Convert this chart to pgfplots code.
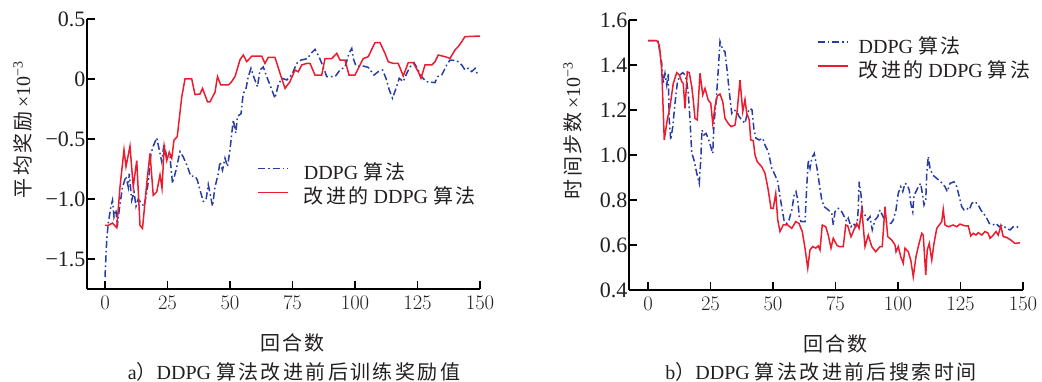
\documentclass[border=0pt]{standalone}
\usepackage{fontspec}
\setmainfont{Liberation Serif}
\newfontfamily\cjk[LetterSpace=12]{Noto Sans CJK SC}
\usepackage{pgfplots}
\pgfplotsset{compat=1.18}
\definecolor{myblue}{RGB}{40,60,165}
\definecolor{myred}{RGB}{235,28,45}
\definecolor{txt}{RGB}{35,31,32}

\pgfplotsset{
  myax/.style={
    scale only axis, width=393bp, height=270bp,
    axis x line*=bottom, axis y line*=left,
    axis line style={-, line width=1.7bp, black},
    tick align=inside, major tick length=8bp,
    every tick/.style={black, line width=1.7bp},
    xtick={0,25,50,75,100,125,150},
    xmax=150,
    tick label style={font=\fontsize{22bp}{26bp}\selectfont, text=txt},
    xticklabel style={yshift=-4bp},
    yticklabel style={xshift=2bp},
    label style={font=\fontsize{20bp}{24bp}\selectfont, text=txt},
    legend style={draw=none, fill=none, inner sep=0pt, anchor=north west,
      font=\fontsize{20bp}{24bp}\selectfont, text=txt,
      nodes={text height=14bp, text depth=4bp, inner ysep=3bp, inner xsep=0pt}},
    legend cell align=left,
    legend image code/.code={\draw[#1] (0bp,6bp) -- (30bp,6bp);},
    clip=false,
  },
  bl/.style={myblue, line width=1.5bp, dash pattern=on 7bp off 3bp on 1.6bp off 3bp},
  rd/.style={myred, line width=1.5bp},
}

\begin{document}
\begin{tikzpicture}
\useasboundingbox (0,0) rectangle (1042bp,382bp);

% ---------------- left ----------------
\begin{axis}[myax, at={(87bp,93bp)}, anchor=south west,
  xmin=-7.2, ymin=-1.75, ymax=0.5,
  ytick={-1.5,-1,-0.5,0,0.5},
  yticklabels={−1.5,−1.0,−0.5,0,0.5},
  ylabel={{\cjk 平均奖励}\,×10\textsuperscript{−3}},
  ylabel style={at={(axis description cs:-0.164,0.59)}, anchor=center},
  xlabel={\cjk 回合数},
  xlabel style={at={(axis description cs:0.523,-0.2)}, anchor=center},
  legend style={at={(axis description cs:0.433,0.47)}, column sep=15bp},
]
\addplot[bl] coordinates {
(0,-1.65) (0.7,-1.34) (1.3,-1.2) (2.4,-1.06) (3,-1.01) (3.6,-1.15) (4.4,-1.09) (4.9,-1.23) (5.7,-1.09) (7,-0.9) (8.4,-0.81) (9.3,-0.9) (9.7,-0.79) (10.7,-1.01) (11.6,-0.94) (12.4,-1.06) (13.3,-1.0) (14.7,-1.04) (15.6,-1.06) (16.7,-0.95) (17.6,-0.81) (18.4,-0.62) (19.3,-0.56) (20.7,-0.49) (21.7,-0.59) (22.7,-0.69) (23.6,-0.54) (24.7,-0.65) (26,-0.65) (27,-0.87) (28.4,-0.76) (30,-0.605) (31.3,-0.65) (33,-0.73) (34.3,-0.81) (36,-0.81) (36.9,-0.84) (38,-0.925) (39.3,-1.02) (40.4,-1.01) (41.3,-0.88) (42,-0.95) (43,-1.06) (44,-0.9) (45.3,-0.79) (46,-0.69) (47,-0.76) (48,-0.66) (49,-0.73) (50,-0.59) (51.3,-0.34) (52.3,-0.45) (53,-0.31) (54.4,-0.29) (55.3,-0.12) (56.3,-0.09) (57.3,0.019) (58.4,0.089) (59.7,0.006) (61,-0.064) (62,0.075) (63.3,0.1) (64.7,0.019) (66,-0.05) (68,-0.16) (69.3,-0.05) (70.7,0.006) (72.7,-0.008) (74.7,0.033) (76.7,0.13) (78.4,0.158) (81,0.17) (82.4,0.214) (84,0.247) (85.6,0.186) (87.3,0.1) (88.7,0.019) (92,0.019) (94,0.075) (96,0.1) (97.6,0.214) (98.7,0.255) (99.3,0.172) (100.4,0.108) (103.3,0.108) (105.3,0.097) (107.6,0.033) (109.3,0.061) (111,0.075) (112.4,0.006) (113.7,-0.09) (115,-0.16) (116.4,-0.078) (117.7,0.006) (119.3,-0.022) (120.7,0.047) (122,0.1) (123.6,0.136) (125.3,0.075) (126.7,0.019) (128.4,-0.022) (132,-0.03) (133,0.019) (134.7,0.033) (136.7,0.117) (138,0.158) (140.7,0.153) (142.7,0.117) (144,0.075) (145.3,0.089) (146.7,0.061) (148,0.089) (149.3,0.025)
};
\addlegendentry{DDPG {\cjk 算法}}
\addplot[rd] coordinates {
(0,-1.22) (1.3,-1.22) (3,-1.2) (4.7,-1.24) (6,-0.90) (7.6,-0.59) (8.4,-0.73) (10,-0.56) (11.3,-0.9) (12.7,-0.68) (14,-1.22) (15,-1.245) (16.7,-0.87) (18,-0.62) (19.3,-0.97) (20.7,-0.94) (22,-0.8) (22.8,-0.91) (23.7,-0.56) (24.7,-0.68) (25.7,-0.61) (26.7,-0.66) (27.6,-0.51) (28.9,-0.48) (30.7,-0.15) (32,0) (34.7,0) (36,-0.13) (38,-0.125) (39,-0.078) (41,-0.19) (42,-0.19) (44,-0.11) (45,0.02) (46.3,-0.05) (49.3,-0.05) (50.4,-0.03) (52,0.02) (54,0.16) (55.3,0.2) (56.7,0.145) (58.7,0.19) (62.7,0.19) (64,0.13) (65.3,0.18) (68,0.18) (70,0.048) (72,-0.078) (74,-0.022) (76,0.075) (77.3,0.06) (78.7,0.117) (80.7,0.13) (82,0.13) (84,0.033) (86.7,0.033) (88,0.17) (90.7,0.17) (92.7,0.214) (94,0.158) (96,0.158) (97.6,0.033) (100,0.033) (102,0.117) (103.3,0.17) (105.3,0.186) (106.7,0.247) (108,0.303) (110,0.303) (112,0.214) (113.3,0.144) (115.3,0.13) (117.3,0.13) (119.3,0.025) (121.3,0.136) (123.3,0.136) (125.3,0.061) (126.4,0.006) (128,0.117) (130.7,0.117) (132,0.144) (133.3,0.2) (136,0.186) (138,0.172) (140,0.242) (141.3,0.27) (142.7,0.311) (144,0.353) (150,0.358)
};
\addlegendentry{{\cjk 改进的} DDPG {\cjk 算法}}
\end{axis}

% ---------------- right ----------------
\begin{axis}[myax, at={(629bp,92bp)}, anchor=south west, width=394bp,
  xmin=-7.6, ymin=0.4, ymax=1.6,
  ytick={0.4,0.6,0.8,1.0,1.2,1.4,1.6},
  yticklabels={0.4,0.6,0.8,1.0,1.2,1.4,1.6},
  ylabel={{\cjk 时间步数}\,×10\textsuperscript{−3}},
  ylabel style={at={(axis description cs:-0.143,0.59)}, anchor=center},
  xlabel={\cjk 回合数},
  xlabel style={at={(axis description cs:0.524,-0.2)}, anchor=center},
  legend style={at={(axis description cs:0.477,0.941)}, column sep=10bp},
]
\addplot[bl] coordinates {
(0,1.508) (4,1.508) (5.5,1.407) (6.1,1.318) (6.8,1.363) (7.5,1.311) (8.1,1.363) (8.5,1.156) (9.1,1.067) (9.9,1.126) (10.8,1.23) (11.7,1.318) (12.8,1.356) (13.9,1.366) (14.8,1.356) (15.5,1.326) (16.1,1.274) (16.8,1.156) (17.5,1.007) (18.4,0.978) (19.5,0.919) (20.5,0.874) (21.1,0.978) (21.6,1.111) (22.4,1.089) (23.2,1.096) (24.1,1.074) (25.1,1.037) (25.9,1.007) (26.4,1.141) (27.2,1.23) (28.1,1.378) (28.8,1.504) (29.9,1.467) (30.8,1.459) (31.7,1.37) (32.5,1.281) (33.5,1.185) (34.4,1.2) (35.5,1.193) (36.5,1.17) (37.5,1.156) (38.8,1.141) (39.7,1.185) (40.8,1.207) (41.6,1.2) (42.4,1.111) (43.2,1.074) (44.5,1.067) (45.9,1.074) (46.8,1.044) (48.1,1.015) (49.5,0.941) (50.8,0.911) (51.9,0.881) (52.8,0.815) (53.7,0.756) (54.5,0.704) (55.5,0.696) (56.4,0.711) (57.5,0.756) (58.5,0.822) (59.2,0.837) (59.9,0.8) (60.5,0.726) (61.2,0.704) (62.8,0.704) (63.5,0.859) (64.1,0.978) (64.8,0.941) (65.5,0.985) (66.5,1.007) (67.5,0.948) (68.4,0.881) (69.5,0.8) (70.5,0.77) (72.1,0.756) (73.5,0.741) (74.1,0.689) (74.8,0.748) (76.1,0.763) (77.5,0.748) (78.5,0.726) (79.5,0.704) (80.1,0.719) (81.2,0.681) (82.1,0.696) (83.1,0.681) (83.9,0.719) (84.5,0.881) (85.2,0.822) (85.9,0.741) (86.8,0.733) (87.9,0.711) (88.8,0.726) (89.7,0.667) (90.8,0.711) (91.9,0.726) (92.8,0.756) (93.7,0.733) (94.8,0.711) (95.9,0.696) (97.2,0.696) (98.1,0.711) (99.2,0.756) (100.1,0.83) (101.1,0.859) (101.9,0.837) (102.8,0.874) (103.7,0.867) (104.5,0.844) (105.1,0.785) (105.9,0.748) (106.4,0.822) (107.2,0.837) (108.1,0.859) (109.1,0.874) (109.7,0.83) (110.4,0.778) (111.1,0.8) (111.5,0.919) (112.1,0.993) (112.8,0.941) (113.9,0.911) (115.5,0.896) (117.1,0.881) (118.8,0.859) (119.7,0.837) (120.8,0.874) (122.4,0.881) (123.5,0.859) (124.5,0.815) (125.5,0.77) (126.4,0.756) (127.5,0.763) (128.5,0.756) (129.5,0.785) (130.8,0.793) (132.1,0.778) (133.1,0.756) (134.1,0.741) (135.2,0.726) (136.5,0.696) (137.9,0.689) (139.2,0.696) (140.5,0.681) (141.9,0.689) (143.2,0.674) (144.8,0.667) (146.1,0.681) (147.5,0.678) (148.8,0.689)
};
\addlegendentry{DDPG {\cjk 算法}}
\addplot[rd] coordinates {
(0,1.508) (3.5,1.508) (4.5,1.49) (5.5,1.378) (6.5,1.067) (7.7,1.156) (8.8,1.215) (10.1,1.318) (11.5,1.366) (12.5,1.356) (13.5,1.326) (14.1,1.318) (14.8,1.207) (15.7,1.37) (16.5,1.366) (17.5,1.304) (18.1,1.244) (18.8,1.163) (19.7,1.156) (20.8,1.363) (21.9,1.267) (22.8,1.296) (24.1,1.244) (25.1,1.23) (25.9,1.14) (26.8,1.215) (27.7,1.262) (28.8,1.271) (29.9,1.237) (30.8,1.163) (32.1,1.14) (33.2,1.126) (34.8,1.133) (35.7,1.2) (36.8,1.333) (37.9,1.193) (38.8,1.247) (39.5,1.185) (40.5,1.156) (41.1,1.067) (42.1,1.064) (42.8,1.0) (43.7,0.97) (45.5,0.948) (46.8,0.919) (48.1,0.844) (49.2,0.763) (50.1,0.763) (51.1,0.829) (51.9,0.711) (52.8,0.66) (54.1,0.689) (55.9,0.689) (57.5,0.674) (59.1,0.704) (60.4,0.696) (61.7,0.66) (62.8,0.586) (63.9,0.497) (64.8,0.578) (65.9,0.593) (67.1,0.586) (68.1,0.596) (68.8,0.578) (69.7,0.689) (71.1,0.681) (72.1,0.644) (73.2,0.586) (74.1,0.63) (75.5,0.6) (76.4,0.593) (78.1,0.593) (79.1,0.689) (79.9,0.685) (81.2,0.637) (82.1,0.66) (83.5,0.696) (84.4,0.674) (85.5,0.758) (86.8,0.593) (88.1,0.644) (89.5,0.593) (91.1,0.57) (92.8,0.593) (93.7,0.593) (94.8,0.77) (95.9,0.637) (97.5,0.622) (98.8,0.6) (99.2,0.57) (100.1,0.593) (101.1,0.548) (102.1,0.519) (102.8,0.586) (104.1,0.57) (105.1,0.533) (106.1,0.459) (107.2,0.548) (108.1,0.593) (109.5,0.652) (110.1,0.644) (111.1,0.467) (111.7,0.578) (112.5,0.607) (113.5,0.533) (114.4,0.607) (115.5,0.674) (116.5,0.689) (117.5,0.704) (118.1,0.758) (118.8,0.689) (120.1,0.681) (122.1,0.689) (123.5,0.681) (124.8,0.693) (126.8,0.685) (128.1,0.685) (129.1,0.64) (130.1,0.652) (131.2,0.644) (132.1,0.655) (133.5,0.644) (134.8,0.66) (136.1,0.652) (136.8,0.63) (138.1,0.644) (139.2,0.66) (140.1,0.644) (141.1,0.685) (142.1,0.637) (143.5,0.634) (145.1,0.622) (146.8,0.607) (148.8,0.61)
};
\addlegendentry{{\cjk 改进的} DDPG {\cjk 算法}}
\end{axis}

\node[font=\fontsize{20bp}{24bp}\selectfont, text=txt] at (294bp,10bp) {a{\cjk ）}DDPG {\cjk 算法改进前后训练奖励值}};
\node[font=\fontsize{20bp}{24bp}\selectfont, text=txt] at (821bp,10bp) {b{\cjk ）}DDPG {\cjk 算法改进前后搜索时间}};
\end{tikzpicture}
\end{document}
